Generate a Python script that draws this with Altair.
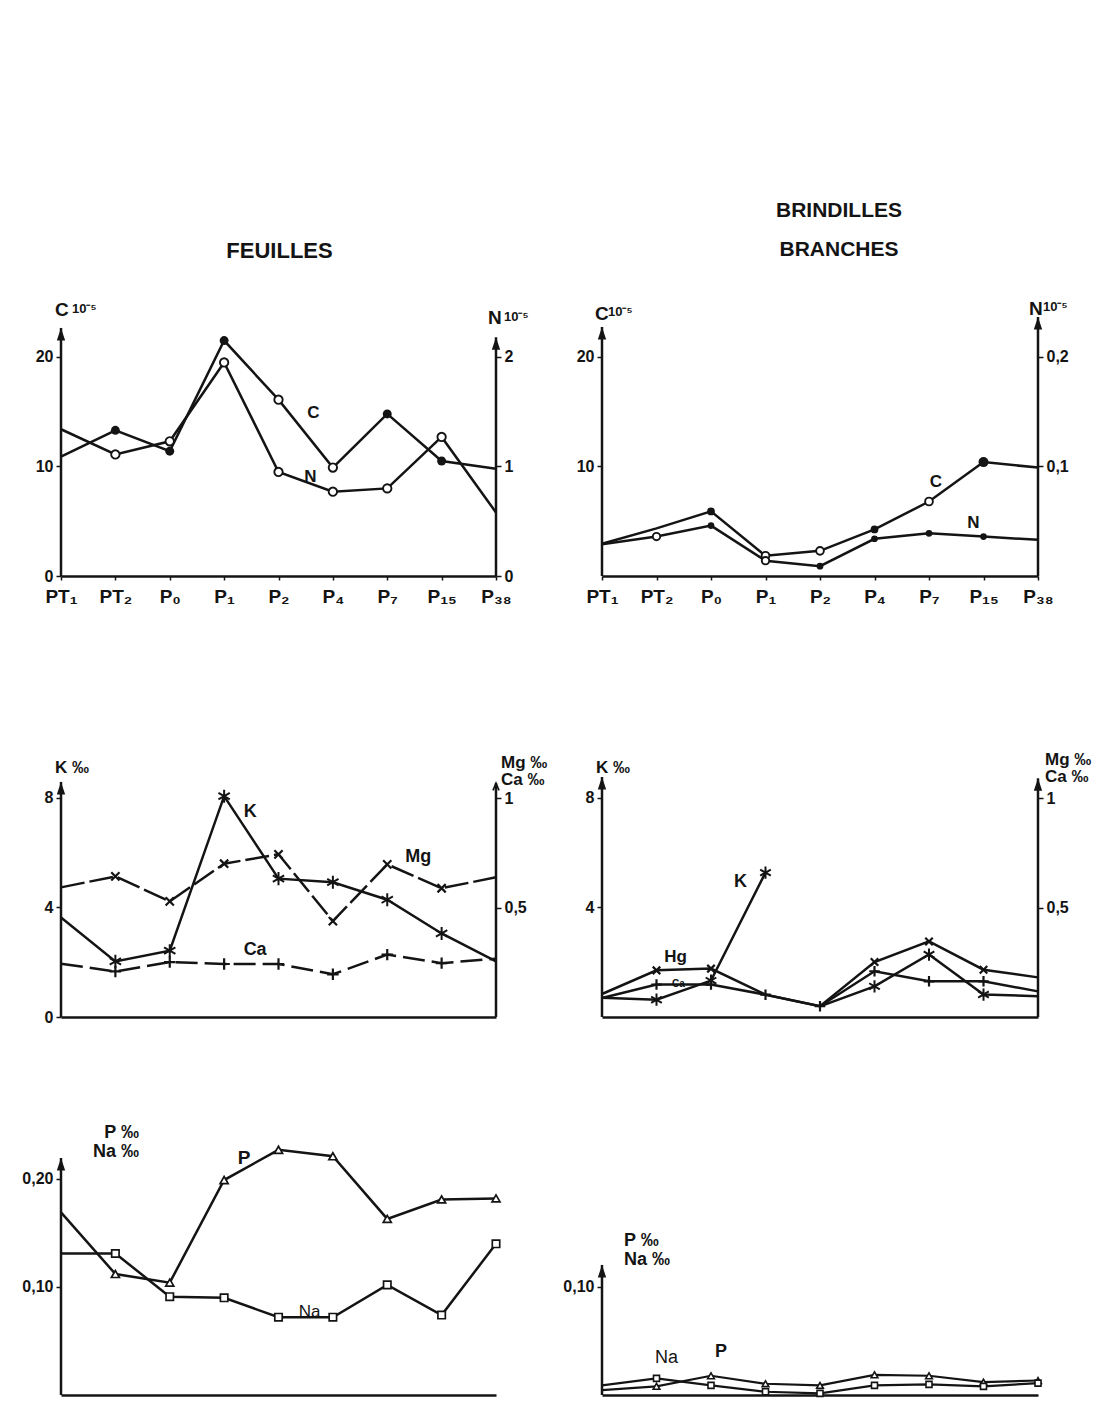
import altair as alt
import pandas as pd

# ---------------- data ----------------
cats = ["PT₁", "PT₂", "P₀", "P₁", "P₂", "P₄", "P₇", "P₁₅", "P₃₈"]

# FEUILLES
feuilles_C = [10.9, 13.3, 11.4, 21.5, 16.1, 9.9, 14.8, 10.5, 9.8]
feuilles_N = [1.34, 1.11, 1.23, 1.95, 0.95, 0.77, 0.80, 1.27, 0.58]
feuilles_K = [3.63, 2.03, 2.42, 8.06, 5.05, 4.92, 4.28, 3.05, 2.03]
feuilles_Mg = [0.592, 0.642, 0.528, 0.700, 0.743, 0.438, 0.697, 0.588, 0.638]
feuilles_Ca = [0.243, 0.208, 0.251, 0.242, 0.242, 0.195, 0.285, 0.246, 0.266]
feuilles_P = [0.169, 0.112, 0.104, 0.199, 0.227, 0.221, 0.163, 0.181, 0.182]
feuilles_Na = [0.131, 0.131, 0.091, 0.090, 0.072, 0.072, 0.102, 0.074, 0.140]

# BRINDILLES / BRANCHES
brind_C = [2.95, 4.35, 5.9, 1.85, 2.3, 4.25, 6.8, 10.4, 9.9]
brind_N = [0.029, 0.036, 0.046, 0.014, 0.009, 0.034, 0.039, 0.036, 0.033]
brind_K = [0.70, 0.63, 1.33, 5.27, 0.39, 1.12, 2.28, 0.82, 0.76]
brind_K_part = [1, 1, 1, 1, 2, 2, 2, 2, 2]
brind_Mg = [0.105, 0.213, 0.221, 0.102, 0.049, 0.251, 0.345, 0.216, 0.181]
brind_Ca = [0.087, 0.148, 0.148, 0.102, 0.049, 0.209, 0.163, 0.163, 0.117]
brind_P = [0.0045, 0.0080, 0.0178, 0.0104, 0.0089, 0.0187, 0.0178, 0.0119, 0.0134]
brind_Na = [0.0089, 0.0154, 0.0089, 0.0030, 0.0015, 0.0089, 0.0098, 0.0080, 0.0110]

# ---------------- styling helpers ----------------
FONT = "Liberation Sans"
INK = "#141414"
LW = 2.5
W1, W2 = 435, 436
H1, H2, H3 = 259, 300, 237

ARROW = "M0,0L1,3L-1,3Z"
CHEVRON = "M-1,2.4L0,0L1,2.4"
ASTER = "M0,-1L0,1M-0.87,-0.5L0.87,0.5M-0.87,0.5L0.87,-0.5"
XMARK = "M-0.75,-0.75L0.75,0.75M-0.75,0.75L0.75,-0.75"
PLUS = "M-1,0L1,0M0,-1L0,1"

COMMA1 = "replace(format(datum.value, '.1f'), '.', ',')"
COMMA1_ONE = "datum.value == 1 ? '1' : replace(format(datum.value, '.1f'), '.', ',')"
COMMA2 = "replace(format(datum.value, '.2f'), '.', ',')"


def frame(values, part=None):
    return pd.DataFrame({
        "cat": cats,
        "i": list(range(len(cats))),
        "v": values,
        "part": part if part is not None else [1] * len(cats),
    })


def xenc(labels):
    if labels:
        ax = alt.Axis(title=None, labelFont=FONT, labelFontSize=19, labelFontWeight="bold",
                      labelColor=INK, labelPadding=7, labelAngle=0, ticks=True, tickSize=4,
                      tickColor=INK, tickWidth=1.5, domainColor=INK, domainWidth=LW,
                      grid=False, labelOverlap=False)
    else:
        ax = alt.Axis(title=None, labels=False, ticks=False, domainColor=INK,
                      domainWidth=LW, grid=False)
    return alt.X("cat:N", sort=cats, scale=alt.Scale(type="point", domain=cats, padding=0), axis=ax)


def ymaker(top, values, orient, expr=None):
    scale = alt.Scale(domain=[0, top], nice=False, zero=False)
    axkw = dict(orient=orient, values=values, title=None, domain=False, grid=False, ticks=True,
                tickSize=5, tickColor=INK, tickWidth=1.5, labelFont=FONT, labelFontSize=16,
                labelFontWeight="bold", labelColor=INK, labelPadding=3)
    if expr:
        axkw["labelExpr"] = expr
    axis = alt.Axis(**axkw)

    def Y(field="v"):
        return alt.Y(f"{field}:Q", scale=scale, axis=axis)
    return Y


def line(df, X, Y, dash=None, width=LW):
    kw = dict(color=INK, strokeWidth=width)
    if dash:
        kw["strokeDash"] = dash
    return alt.Chart(df).mark_line(**kw).encode(
        x=X, y=Y("v"), detail="part:N", order="i:Q")


def marks(df, X, Y, which, shape, size, fill=None, sw=1.9):
    base = alt.Chart(df).transform_filter(alt.FieldOneOfPredicate(field="cat", oneOf=which))
    if fill == "ink":
        m = base.mark_point(shape=shape, filled=True, color=INK, size=size, opacity=1)
    elif fill == "white":
        m = base.mark_point(shape=shape, filled=True, fill="white", stroke=INK,
                            strokeWidth=sw, size=size, opacity=1)
    else:
        m = base.mark_point(shape=shape, filled=False, stroke=INK, strokeWidth=sw,
                            size=size, opacity=1)
    return m.encode(x=X, y=Y("v"))


def axis_line(cat, top, X, Y, tip=ARROW, tip_filled=True):
    d = pd.DataFrame({"cat": [cat], "v0": [0.0], "vt": [top]})
    rule = alt.Chart(d).mark_rule(color=INK, strokeWidth=LW).encode(
        x=X, y=Y("v0"), y2=alt.Y2("vt:Q"))
    if tip_filled:
        head = alt.Chart(d).mark_point(shape=tip, filled=True, color=INK, size=70, opacity=1)
    else:
        head = alt.Chart(d).mark_point(shape=tip, filled=False, stroke=INK, strokeWidth=1.7,
                                       size=36, opacity=1)
    return [rule, head.encode(x=X, y=Y("vt"))]


def txt(cat, value, X, Y, text, dx, dy, size, align="left", baseline="middle",
        weight="bold", lh=None):
    d = pd.DataFrame({"cat": [cat], "v": [value]})
    kw = dict(text=text, dx=dx, dy=dy, fontSize=size, font=FONT, fontWeight=weight,
              color=INK, align=align, baseline=baseline)
    if lh:
        kw["lineBreak"] = "\n"
        kw["lineHeight"] = lh
    return alt.Chart(d).mark_text(**kw).encode(x=X, y=Y("v"))


def panel(left, right, width, height, title=None):
    lay = alt.layer(*left)
    if right:
        lay = alt.layer(lay, alt.layer(*right)).resolve_scale(y="independent")
    lay = lay.properties(width=width, height=height)
    if title is not None:
        lay = lay.properties(title=title)
    return lay


first, last = cats[0], cats[-1]
inner = cats[1:8]

# ---------------- FEUILLES : C / N ----------------
X = xenc(True)
YL = ymaker(23.65, [0, 10, 20], "left")
YR = ymaker(2.365, [0, 1, 2], "right")
dC, dN = frame(feuilles_C), frame(feuilles_N)
tl = panel(
    [line(dC, X, YL),
     marks(dC, X, YL, ["PT₂", "P₀", "P₁", "P₇", "P₁₅"], "circle", 80, "ink"),
     marks(dC, X, YL, ["P₂", "P₄"], "circle", 70, "white"),
     *axis_line(first, 22.65, X, YL),
     txt(first, 22.65, X, YL, "C", -6, -18, 19),
     txt(first, 22.65, X, YL, "10⁻⁵", 11, -19, 13),
     txt(cats[4], feuilles_C[4], X, YL, "C", 35, 13, 17, align="center")],
    [line(dN, X, YR),
     marks(dN, X, YR, inner, "circle", 70, "white"),
     *axis_line(last, 2.18, X, YR),
     txt(last, 2.18, X, YR, "N", -8, -19, 19),
     txt(last, 2.18, X, YR, "10⁻⁵", 8, -20, 13),
     txt(cats[4], feuilles_N[4], X, YR, "N", 32, 5, 17, align="center")],
    W1, H1,
    alt.TitleParams(text="FEUILLES", frame="group", anchor="middle", baseline="bottom",
                    offset=16, dx=1, fontSize=22, font=FONT, fontWeight="bold", color=INK))

# ---------------- BRINDILLES : C / N ----------------
X = xenc(True)
YL = ymaker(23.65, [10, 20], "left")
YR = ymaker(0.2365, [0.1, 0.2], "right", COMMA1)
dC, dN = frame(brind_C), frame(brind_N)
tr = panel(
    [line(dC, X, YL),
     marks(dC, X, YL, ["P₀", "P₄"], "circle", 60, "ink"),
     marks(dC, X, YL, ["P₁₅"], "circle", 100, "ink"),
     marks(dC, X, YL, ["P₁", "P₂", "P₇"], "circle", 60, "white"),
     *axis_line(first, 22.74, X, YL),
     txt(first, 22.74, X, YL, "C", -7, -13, 19),
     txt(first, 22.74, X, YL, "10⁻⁵", 6, -15, 13),
     txt(cats[6], brind_C[6], X, YL, "C", 7, -20, 17, align="center")],
    [line(dN, X, YR),
     marks(dN, X, YR, ["P₀", "P₂", "P₄", "P₇", "P₁₅"], "circle", 45, "ink"),
     marks(dN, X, YR, ["PT₂", "P₁"], "circle", 55, "white"),
     *axis_line(last, 0.2365, X, YR),
     txt(last, 0.2365, X, YR, "N", -9, -8, 19),
     txt(last, 0.2365, X, YR, "10⁻⁵", 5, -10, 13),
     txt(cats[7], brind_N[7], X, YR, "N", -10, -14, 17, align="center")],
    W2, H1,
    alt.TitleParams(text=["BRINDILLES", "BRANCHES"], frame="group", anchor="middle",
                    baseline="bottom", lineHeight=39, offset=19, dx=19, fontSize=21,
                    font=FONT, fontWeight="bold", color=INK))

# ---------------- FEUILLES : K / Mg, Ca ----------------
X = xenc(False)
YL = ymaker(10.95, [0, 4, 8], "left")
YR = ymaker(1.37, [0.5, 1], "right", COMMA1_ONE)
dK, dMg, dCa = frame(feuilles_K), frame(feuilles_Mg), frame(feuilles_Ca)
ml = panel(
    [line(dK, X, YL),
     marks(dK, X, YL, inner, ASTER, 170, sw=2),
     *axis_line(first, 8.58, X, YL),
     txt(first, 8.58, X, YL, "K ‰", -6, -14, 17),
     txt(cats[3], feuilles_K[3], X, YL, "K", 26, 16, 18, align="center")],
    [line(dMg, X, YR, dash=[24, 5]),
     line(dCa, X, YR, dash=[22, 7]),
     marks(dMg, X, YR, inner, XMARK, 120, sw=2.2),
     marks(dCa, X, YR, inner, PLUS, 130, sw=2.2),
     *axis_line(last, 1.068, X, YR, tip=CHEVRON, tip_filled=False),
     txt(last, 1.068, X, YR, "Mg ‰\nCa ‰", 5, -28, 17, baseline="top", lh=17),
     txt(cats[6], feuilles_Mg[6], X, YR, "Mg", 31, -7, 18, align="center"),
     txt(cats[3], feuilles_Ca[3], X, YR, "Ca", 31, -14, 18, align="center")],
    W1, H2)

# ---------------- BRINDILLES : K / Mg, Ca ----------------
X = xenc(False)
YL = ymaker(10.95, [4, 8], "left")
YR = ymaker(1.37, [0.5, 1], "right", COMMA1_ONE)
dK, dMg, dCa = frame(brind_K, brind_K_part), frame(brind_Mg), frame(brind_Ca)
mr = panel(
    [line(dK, X, YL),
     marks(dK, X, YL, ["PT₂", "P₀", "P₁", "P₄", "P₇", "P₁₅"], ASTER, 150, sw=2),
     *axis_line(first, 8.76, X, YL),
     txt(first, 8.76, X, YL, "K ‰", -6, -9, 17),
     txt(cats[3], brind_K[3], X, YL, "K", -25, 9, 18, align="center")],
    [line(dMg, X, YR),
     line(dCa, X, YR),
     marks(dMg, X, YR, ["PT₂", "P₀", "P₄", "P₇", "P₁₅"], XMARK, 100, sw=2.2),
     marks(dCa, X, YR, ["PT₂", "P₀", "P₁", "P₂", "P₄", "P₇", "P₁₅"], PLUS, 110, sw=2.2),
     *axis_line(last, 1.09, X, YR),
     txt(last, 1.09, X, YR, "Mg ‰\nCa ‰", 7, -26, 17, baseline="top", lh=17),
     txt(cats[1], brind_Mg[1], X, YR, "Hg", 19, -13, 17, align="center"),
     txt(cats[1], brind_Ca[1], X, YR, "Ca", 22, -1, 10, align="center")],
    W2, H2)

# ---------------- FEUILLES : P / Na ----------------
X = xenc(False)
YL = ymaker(0.2194, [0.1, 0.2], "left", COMMA2)
dP, dNa = frame(feuilles_P), frame(feuilles_Na)
bl = panel(
    [line(dP, X, YL),
     line(dNa, X, YL),
     marks(dP, X, YL, cats[1:], "triangle-up", 65, "white", sw=1.7),
     marks(dNa, X, YL, cats[1:], "square", 55, "white", sw=1.7),
     *axis_line(first, 0.2194, X, YL),
     txt(first, 0.2194, X, YL, "P ‰\nNa ‰", 78, -34, 18, align="right", baseline="top", lh=19),
     txt(cats[3], feuilles_P[3], X, YL, "P", 20, -22, 19, align="center"),
     txt(cats[4], feuilles_Na[4], X, YL, "Na", 31, -5, 17, align="center", weight="normal")],
    None, W1, H3)

# ---------------- BRINDILLES : P / Na ----------------
X = xenc(False)
YL = ymaker(0.2194, [0.1], "left", COMMA2)
dP, dNa = frame(brind_P), frame(brind_Na)
br = panel(
    [line(dP, X, YL, width=2.2),
     line(dNa, X, YL, width=2.2),
     marks(dP, X, YL, cats[1:], "triangle-up", 45, "white", sw=1.6),
     marks(dNa, X, YL, cats[1:], "square", 36, "white", sw=1.6),
     *axis_line(first, 0.1204, X, YL),
     txt(first, 0.1204, X, YL, "P  ‰\nNa ‰", 22, -33, 18, baseline="top", lh=19),
     txt(cats[1], brind_Na[1], X, YL, "Na", 10, -20, 18, align="center", weight="normal"),
     txt(cats[2], brind_P[2], X, YL, "P", 10, -24, 18, align="center")],
    None, W2, H3)

chart = alt.concat(
    tl, tr, ml, mr, bl, br,
    columns=2,
    spacing={"row": 141, "column": 106},
    bounds="flush",
).properties(
    padding={"left": 13, "top": 192, "right": 0, "bottom": 0},
    background="white",
).configure_view(stroke=None)

chart.save("out.html", embed_options={"renderer": "svg", "actions": False})
